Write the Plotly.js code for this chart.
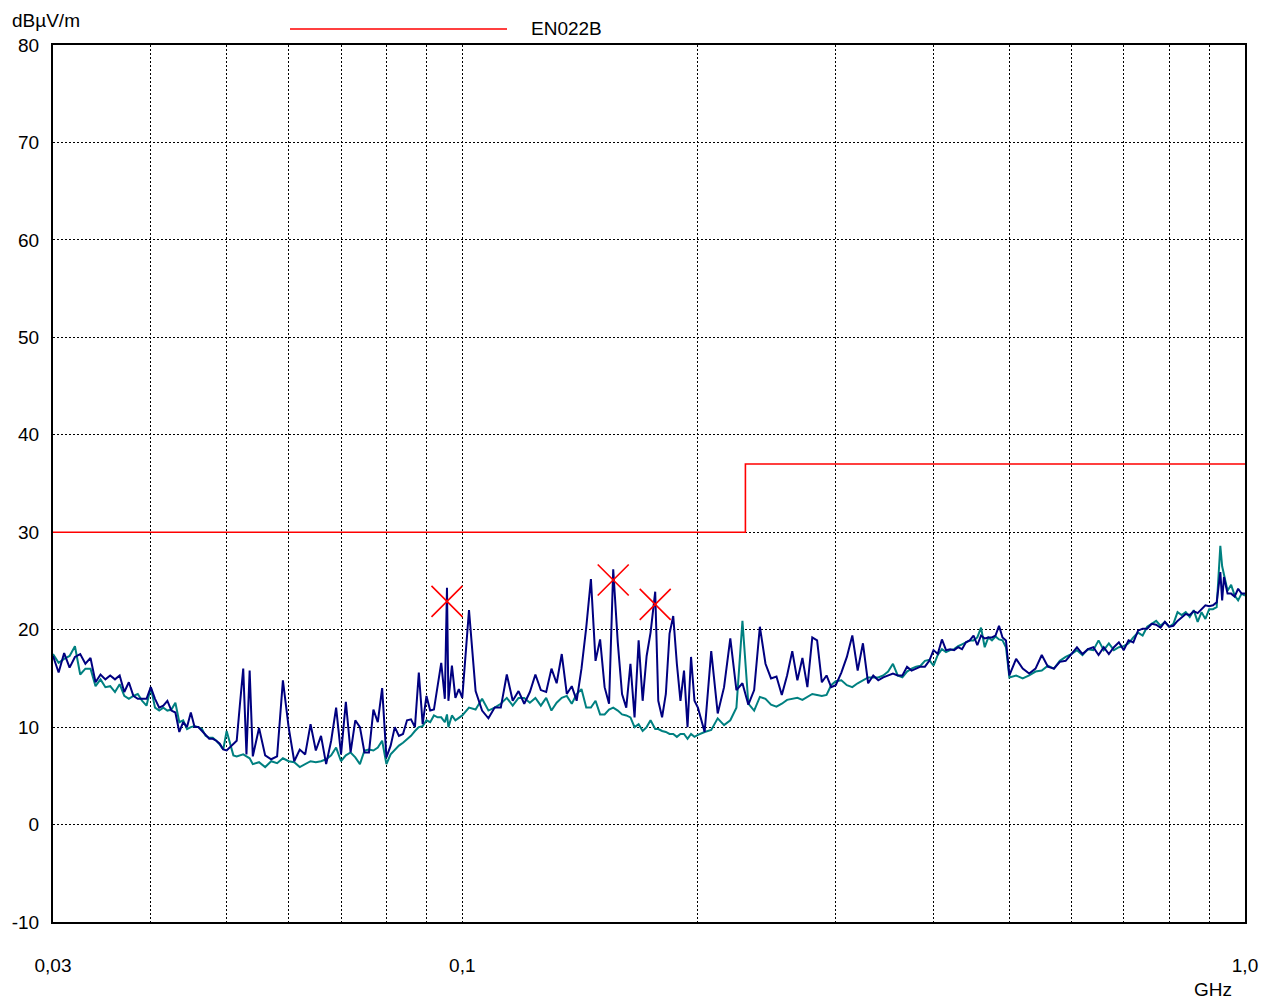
<!DOCTYPE html>
<html>
<head>
<meta charset="utf-8">
<script src="https://cdn.plot.ly/plotly-3.0.1.min.js"></script>
<style>html,body{margin:0;padding:0;background:#fff;}#chart{width:1274px;height:999px;}</style>
</head>
<body>
<div id="chart"></div>
<script>
// Sweep frequencies (MHz)
const freqMHz = [
30,30.5,31,31.5,32,32.5,33,33.5,34,34.5,35,35.5,36,36.5,37,37.5,38,38.5,39,39.5,
40,40.5,41,41.5,42,42.5,43,43.5,44,44.5,45,45.5,46,46.5,47,47.5,48,48.5,49,49.5,
50,51,51.5,52,52.5,53,53.5,54,
55,56,57,58,59,60,61,62,63,64,65,66,67,68,69,70,71,72,73,74,75,76,77,78,79,80,
81,82,83,84,85,86,87,88,89,90,91,92,93,94,95,95.6,96,97,98,99,100,
102,104,106,108,110,112,114,116,118,120,122,124,126,128,130,132,134,136,138,140,
142,144,146,148,150,152,154,155.9,158,160,162,164,166,168,170,172,174,176.4,
178,180,182,184,186,188,190,192,194,196,198,200,
204,208,212,216,220,224,228,232,236,240,244,248,252,256,260,264,268,272,276,280,
284,288,292,296,300,
305,310,315,320,325,330,335,340,345,350,355,360,365,370,375,380,385,390,395,400,
405,410,415,420,425,430,435,440,445,450,455,460,465,470,475,480,485,490,495,500,
510,520,530,540,550,560,570,580,590,600,610,620,630,640,650,660,670,680,690,700,
710,720,730,740,750,760,770,780,790,800,810,820,830,840,850,860,870,880,890,900,
910,920,930,935,940,950,960,970,980,990,1000
];

// Peak trace (dark blue), dBµV/m
const peakLevel = [
17.3,15.6,17.6,16.1,17.2,17.5,16.5,17.1,14.6,15.4,14.9,15.3,14.9,15.3,13.6,14.6,13.2,12.9,12.9,12.9,
14.1,12.9,12.0,12.2,12.7,11.7,11.5,9.5,10.5,10.0,11.5,10.0,10.0,9.6,9.1,8.8,8.8,8.6,8.3,7.7,
7.6,8.3,8.6,12.4,16.0,7.2,15.8,7.0,
9.9,7.1,6.7,7.0,14.8,10.0,6.5,7.7,7.2,10.3,7.6,9.1,6.2,8.6,12.0,7.2,12.6,7.4,10.7,10.0,7.4,7.4,11.8,10.5,14.0,6.9,
8.1,10.0,9.1,9.3,10.7,10.8,10.0,15.6,10.3,13.2,11.7,11.8,14.1,16.6,12.9,24.3,12.7,16.3,13.0,13.9,13.0,
22.0,13.7,11.7,10.9,12.0,12.0,15.4,12.7,13.7,12.4,13.6,15.4,13.8,13.6,16.0,14.5,17.5,13.4,14.2,12.7,
16.0,20.2,25.2,16.8,19.0,14.1,12.4,26.2,18.7,13.4,12.0,16.5,11.0,18.9,12.7,17.3,19.7,23.9,
12.7,11.0,13.4,19.6,21.4,16.5,12.7,15.8,10.0,17.2,12.7,12.0,
9.5,17.8,11.4,14.1,19.1,13.8,14.5,12.3,13.8,20.3,16.5,15.0,15.2,13.3,15.3,17.8,14.8,17.1,14.1,19.2,
18.9,14.6,15.3,14.1,14.3,
15.6,17.2,19.4,15.8,18.6,14.5,15.3,14.8,15.1,15.3,15.5,15.3,15.3,16.2,15.8,16.0,16.2,16.2,16.8,17.9,
17.5,19.0,17.9,18.0,17.9,18.2,18.0,18.7,18.9,19.4,18.4,19.4,19.1,19.2,19.2,19.4,20.4,19.2,18.9,15.3,
17.0,16.0,15.5,16.0,17.4,16.2,16.0,16.7,16.8,17.5,18.2,17.5,18.0,18.2,17.4,18.2,17.5,18.2,18.7,17.9,
18.9,18.7,19.9,20.1,20.1,20.6,20.5,20.2,20.8,20.3,20.4,20.9,21.3,21.6,21.5,21.9,21.7,22.1,22.5,22.4,
22.5,22.8,25.9,23.0,25.4,23.7,23.7,23.4,24.2,23.7,23.7
];

// Second trace (teal), dBµV/m
const avgLevel = [
17.5,16.6,17.0,17.3,18.3,15.4,16.0,16.0,14.2,14.9,14.1,14.2,13.6,14.4,13.2,12.9,13.2,13.4,12.7,12.2,
14.1,12.0,11.7,12.0,11.7,11.8,12.5,10.5,10.7,9.8,10.0,10.1,10.0,9.8,9.1,8.9,8.9,8.6,8.2,7.7,
9.6,7.1,7.0,7.1,7.2,7.0,6.8,6.2,
6.4,5.9,6.5,6.3,6.8,6.5,6.4,5.9,6.2,6.5,6.4,6.5,6.7,7.1,7.9,6.5,7.1,7.4,6.9,6.2,7.6,7.7,7.6,7.9,8.6,6.2,
7.2,7.7,8.1,8.4,8.8,9.1,9.6,10.0,10.1,10.7,10.5,11.2,11.0,11.0,10.5,11.3,10.0,11.2,10.7,11.0,11.2,
12.0,11.8,12.9,11.7,12.0,12.4,13.0,12.2,13.0,13.0,12.5,13.0,12.2,13.0,11.7,12.5,13.0,13.2,12.4,13.4,
13.9,12.0,12.0,12.7,11.3,11.3,11.8,12.0,11.7,11.3,11.2,11.0,10.0,10.3,9.6,10.0,10.7,9.8,
9.8,9.6,9.5,9.3,9.3,9.0,9.3,9.3,8.8,9.3,9.0,9.2,
9.5,9.7,10.9,10.2,10.7,12.0,20.9,12.4,11.7,13.1,12.9,12.3,12.1,12.4,12.8,12.9,13.0,12.8,13.1,13.4,
13.3,13.2,13.3,14.3,14.7,
14.8,14.3,14.1,14.5,14.8,15.1,15.1,15.1,15.3,15.7,16.5,15.3,15.1,15.7,16.0,16.2,16.3,16.8,16.9,16.3,
17.4,18.0,17.7,17.9,18.0,18.3,18.5,18.7,18.9,18.9,19.2,20.2,18.2,19.2,18.9,19.3,19.0,18.9,18.2,15.1,
15.3,15.0,15.3,15.7,15.8,16.3,16.0,16.8,17.2,17.5,17.9,17.4,18.0,17.9,18.9,17.9,18.6,17.9,18.2,18.3,
18.6,19.2,19.7,19.4,20.3,20.6,20.9,20.4,20.8,20.3,20.6,21.8,21.5,21.8,21.3,22.0,20.8,21.8,21.1,22.1,
22.1,22.3,28.6,26.5,25.7,24.0,24.6,23.5,23.0,23.7,23.5
];

// Limit line EN022B (GHz, dBµV/m), step at 0.23 GHz
const limitFreq = [0.03, 0.23, 1.0];
const limitLevel = [30, 37, 37];

// Marked measurement points
const markFreq = [0.0956, 0.1559, 0.1764];
const markLevel = [22.9, 25.1, 22.6];

// Axis ticks
const xGridVals = [0.03,0.04,0.05,0.06,0.07,0.08,0.09,0.1,0.2,0.3,0.4,0.5,0.6,0.7,0.8,0.9,1.0];
const xTickText = ['0,03','','','','','','','0,1','','','','','','','','','1,0'];
const yTickVals = [-10,0,10,20,30,40,50,60,70,80];
const yTickText = ['-10','0','10','20','30','40','50','60','70','80'];

if (peakLevel.length !== freqMHz.length || avgLevel.length !== freqMHz.length) {
  throw new Error('length mismatch ' + freqMHz.length + ' ' + peakLevel.length + ' ' + avgLevel.length);
}
const freqGHz = freqMHz.map(f => f / 1000);

const FONT = 'Liberation Sans, Arial, sans-serif';
const FS = 19;

const traces = [
  {x: freqGHz, y: avgLevel, type: 'scatter', mode: 'lines', name: 'Average',
   line: {color: '#008080', width: 2}, showlegend: false, hoverinfo: 'x+y'},
  {x: freqGHz, y: peakLevel, type: 'scatter', mode: 'lines', name: 'Peak',
   line: {color: '#000080', width: 2}, showlegend: false, hoverinfo: 'x+y'},
  {x: limitFreq, y: limitLevel, type: 'scatter', mode: 'lines', name: 'EN022B',
   line: {color: '#ff0000', width: 1.6, shape: 'hv'}, showlegend: false},
  {x: markFreq, y: markLevel, type: 'scatter', mode: 'markers', name: 'Marker',
   marker: {symbol: 'x-thin-open', size: 31, color: '#ff0000', line: {color: '#ff0000', width: 1.6}},
   showlegend: false}
];

const L = 53, R = 1245, T = 45, B = 922;
const pw = R - L, ph = B - T;

const layout = {
  width: 1274, height: 999,
  margin: {l: L, r: 1274 - R, t: T, b: 999 - B, pad: 0},
  paper_bgcolor: '#ffffff', plot_bgcolor: '#ffffff',
  font: {family: FONT, size: FS, color: '#000'},
  showlegend: false,
  xaxis: {
    type: 'log', range: [Math.log10(0.03), 0],
    tickmode: 'array', tickvals: xGridVals, ticktext: xTickText,
    ticks: '', ticklabelstandoff: 25,
    showgrid: true, gridcolor: '#000', gridwidth: 1, griddash: '2px,2px',
    showline: true, mirror: true, linecolor: '#000', linewidth: 2,
    zeroline: false, tickfont: {family: FONT, size: FS, color: '#000'}
  },
  yaxis: {
    range: [-10, 80], tickmode: 'array', tickvals: yTickVals, ticktext: yTickText,
    ticks: '', ticklabelstandoff: 8,
    showgrid: true, gridcolor: '#000', gridwidth: 1, griddash: '2px,2px',
    showline: true, mirror: true, linecolor: '#000', linewidth: 2,
    zeroline: false, tickfont: {family: FONT, size: FS, color: '#000'}
  },
  shapes: [
    {type: 'line', xref: 'paper', yref: 'paper',
     x0: (290 - L) / pw, x1: (507 - L) / pw, y0: 1 + (T - 29) / ph, y1: 1 + (T - 29) / ph,
     line: {color: '#ff0000', width: 1.6}}
  ],
  annotations: [
    {text: 'EN022B', xref: 'paper', yref: 'paper', x: (529 - L) / pw, y: 1 + (T - 28) / ph,
     xanchor: 'left', yanchor: 'middle', showarrow: false, font: {family: FONT, size: FS, color: '#000'}},
    {text: 'dBµV/m', xref: 'paper', yref: 'paper', x: (10 - L) / pw, y: 1 + (T - 20) / ph,
     xanchor: 'left', yanchor: 'middle', showarrow: false, font: {family: FONT, size: FS, color: '#000'}},
    {text: 'GHz', xref: 'paper', yref: 'paper', x: (1213 - L) / pw, y: -(989 - B) / ph,
     xanchor: 'center', yanchor: 'middle', showarrow: false, font: {family: FONT, size: FS, color: '#000'}}
  ]
};

Plotly.newPlot('chart', traces, layout, {displayModeBar: false, staticPlot: true});
</script>
</body>
</html>
